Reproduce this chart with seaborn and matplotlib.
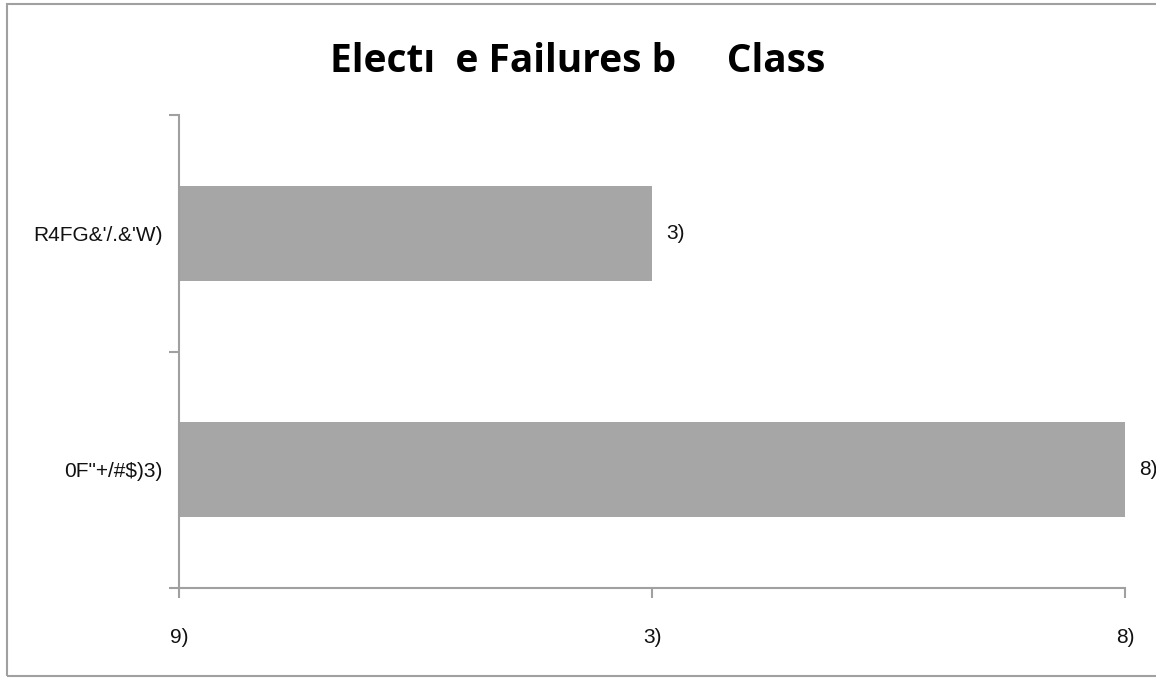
import matplotlib
matplotlib.use("Agg")
import matplotlib.pyplot as plt
import seaborn as sns
import pandas as pd
from matplotlib.patches import Rectangle

categories = ["R4FG&'/.&'W)", "0F\"+/#$)3)"]
values = [5, 10]
value_labels = ["3)", "8)"]
tick_values = [0, 5, 10]
tick_labels = ["9)", "3)", "8)"]
title = "Electı  e Failures b     Class"

sns.set_theme(style="white")
plt.rcParams['font.family'] = ['Liberation Sans', 'DejaVu Sans']

df = pd.DataFrame({"cat": categories, "val": values})

fig = plt.figure(figsize=(11.56, 6.78), dpi=100)
ax = fig.add_axes([179/1156, 1-588/678, (1125-179)/1156, (588-115)/678])

sns.barplot(data=df, x="val", y="cat", orient="h", color="#a6a6a6",
            saturation=1, width=0.4, ax=ax, edgecolor="none")

ax.set_xlim(0, 10)
ax.set_ylim(1.5, -0.5)
ax.set_xlabel("")
ax.set_ylabel("")

axis_col = "#a0a0a0"
for s in ["top", "right"]:
    ax.spines[s].set_visible(False)
for s in ["left", "bottom"]:
    ax.spines[s].set_color(axis_col)
    ax.spines[s].set_linewidth(1.5)

ax.set_xticks(tick_values)
ax.set_xticklabels(tick_labels, fontsize=15, color="#111111")
ax.tick_params(axis="x", direction="out", length=7, width=1.5, color=axis_col, pad=22, bottom=True)

ax.set_yticks([-0.5, 0.5, 1.5])
ax.set_yticklabels([])
ax.set_yticks([0, 1], minor=True)
ax.set_yticklabels(categories, minor=True, fontsize=15, color="#111111")
ax.tick_params(axis="y", which="major", direction="out", length=7, width=1.5, color=axis_col, left=True)
ax.tick_params(axis="y", which="minor", length=0, pad=12)

for i, (v, lab) in enumerate(zip(values, value_labels)):
    ax.annotate(lab, xy=(v, i), xytext=(10, 0), textcoords="offset points",
                va="center", ha="left", fontsize=15, color="#111111",
                annotation_clip=False)

fig.text(0.5, 1-62/678, title, ha="center", va="center", fontsize=28,
         fontweight="bold", family=["Open Sans", "DejaVu Sans"], color="#000000")

fig.patches.append(Rectangle((7/1156, 1-676/678), 1.2, (676-4)/678,
                             transform=fig.transFigure, fill=False,
                             edgecolor="#a0a0a0", linewidth=1.5))

fig.savefig("out.png", dpi=100)
